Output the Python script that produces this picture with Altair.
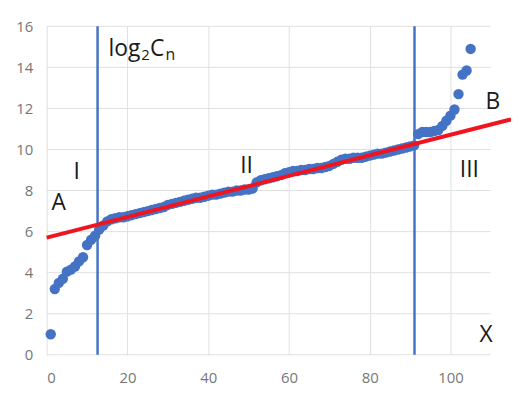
import altair as alt
import pandas as pd

# Blue data points (index n, value)
xs = list(range(1, 106))
ys = [
    1.0, 3.2, 3.5, 3.7, 4.05, 4.15, 4.3, 4.55, 4.75, 5.35,
    5.6, 5.8, 6.1, 6.3, 6.5, 6.6, 6.65, 6.7, 6.7, 6.75,
    6.8, 6.85, 6.9, 6.95, 7.0, 7.05, 7.1, 7.15, 7.2, 7.3,
    7.35, 7.4, 7.45, 7.5, 7.55, 7.6, 7.65, 7.65, 7.7, 7.75,
    7.8, 7.8, 7.85, 7.9, 7.95, 7.95, 8.0, 8.0, 8.05, 8.05,
    8.1, 8.4, 8.5, 8.55, 8.6, 8.65, 8.7, 8.75, 8.85, 8.9,
    8.95, 8.95, 9.0, 9.0, 9.05, 9.05, 9.1, 9.1, 9.15, 9.2,
    9.3, 9.4, 9.5, 9.55, 9.55, 9.6, 9.6, 9.6, 9.65, 9.7,
    9.75, 9.8, 9.8, 9.85, 9.9, 9.95, 10.0, 10.05, 10.1, 10.15,
    10.2, 10.75, 10.85, 10.85, 10.85, 10.9, 10.95, 11.15, 11.4, 11.65,
    11.95, 12.7, 13.65, 13.85, 14.9,
]

# Red fitted line end points
fit_x = [0, 115]
fit_y = [5.71, 11.47]

# Vertical boundary lines
bound_x = [12.6, 91.1]

# Annotations
ann_text = ["I", "A", "II", "III", "B", "X"]
ann_x = [7.4, 3.0, 49.5, 104.7, 110.5, 108.8]
ann_y = [8.9, 7.4, 9.2, 9.0, 12.3, 0.95]

# "log2Cn" pieces (normal / subscript)
ttl_text = ["log", "2", "C", "n"]
ttl_x = [15.3, 23.4, 25.6, 29.4]
ttl_y = [14.9, 14.9, 14.9, 14.9]
ttl_size = [23, 15, 23, 16]
ttl_dy = [0, 6, 0, 6]

x_ticks = [0, 20, 40, 60, 80, 100]
y_ticks = [0, 2, 4, 6, 8, 10, 12, 14, 16]
x_grid_end = 110

pts = pd.DataFrame({"x": xs, "y": ys})
fit = pd.DataFrame({"x": fit_x, "y": fit_y})
bounds = pd.DataFrame({"x": bound_x, "y0": [0, 0], "y1": [16, 16]})
ann = pd.DataFrame({"t": ann_text, "x": ann_x, "y": ann_y})
hgrid = pd.DataFrame({"y": y_ticks, "x0": [0] * len(y_ticks), "x1": [x_grid_end] * len(y_ticks)})

xscale = alt.Scale(domain=[0, 115], nice=False, zero=False)
yscale = alt.Scale(domain=[0, 16], nice=False)

xaxis = alt.Axis(values=x_ticks, title=None, grid=True, ticks=False, tickSize=0,
                 domain=False, labelPadding=16,
                 labelColor="#777777", labelFontSize=15, labelFont="Open Sans",
                 gridColor="#e0e0e0")
yaxis = alt.Axis(values=y_ticks, title=None, grid=False, ticks=False, tickSize=0,
                 domain=False, labelPadding=14,
                 labelColor="#777777", labelFontSize=15, labelFont="Open Sans")

grid = alt.Chart(hgrid).mark_rule(color="#e0e0e0", strokeWidth=1).encode(
    x=alt.X("x0:Q", scale=xscale, axis=xaxis),
    x2="x1:Q",
    y=alt.Y("y:Q", scale=yscale, axis=yaxis),
)

rules = alt.Chart(bounds).mark_rule(color="#4472C4", strokeWidth=2.5).encode(
    x=alt.X("x:Q", scale=xscale),
    y=alt.Y("y0:Q", scale=yscale),
    y2="y1:Q",
)

points = alt.Chart(pts).mark_circle(size=110, color="#4472C4", opacity=1).encode(
    x=alt.X("x:Q", scale=xscale), y=alt.Y("y:Q", scale=yscale)
)

line = alt.Chart(fit).mark_line(color="#F0141E", strokeWidth=4).encode(
    x=alt.X("x:Q", scale=xscale), y=alt.Y("y:Q", scale=yscale)
)

labels = alt.Chart(ann).mark_text(fontSize=23, font="Open Sans", color="#1a1a1a",
                                  align="center", baseline="middle").encode(
    x=alt.X("x:Q", scale=xscale), y=alt.Y("y:Q", scale=yscale), text="t:N"
)

title_layers = []
for t, x, y, s, d in zip(ttl_text, ttl_x, ttl_y, ttl_size, ttl_dy):
    df = pd.DataFrame({"t": [t], "x": [x], "y": [y]})
    title_layers.append(
        alt.Chart(df).mark_text(fontSize=s, dy=d, font="Open Sans", color="#1a1a1a",
                                align="left", baseline="middle").encode(
            x=alt.X("x:Q", scale=xscale), y=alt.Y("y:Q", scale=yscale), text="t:N"
        )
    )

chart = alt.layer(grid, rules, points, line, labels, *title_layers).properties(
    width=468, height=331,
    autosize=alt.AutoSizeParams(type="none"),
    padding={"left": 39, "top": 17, "right": 0, "bottom": 32},
).configure_view(stroke=None)

chart.save("out.html", embed_options={"renderer": "svg", "actions": False})
